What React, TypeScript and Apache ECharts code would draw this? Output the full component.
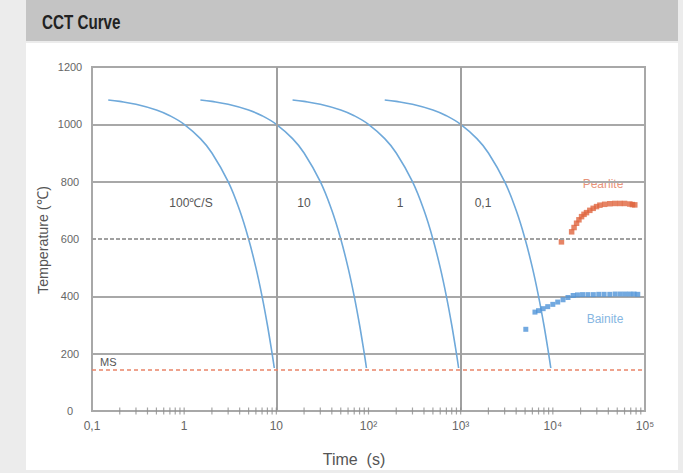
import React, { useEffect, useRef } from "react";
import * as echarts from "echarts";

const xTickLabels = ["0,1", "1", "10", "10²", "10³", "10⁴", "10⁵"];
const yMin = 0;
const yMax = 1200;
const yInterval = 200;

const curve100: [number, number][] = [
  [0.15, 1085], [0.2, 1080], [0.3, 1070], [0.5, 1050], [0.7, 1030], [1, 1000],
  [1.5, 950], [2, 900], [3, 800], [4, 700], [5, 600], [6, 500], [7, 400],
  [8, 300], [9, 200], [9.5, 150],
];
const curve10: [number, number][] = [
  [1.5, 1085], [2, 1080], [3, 1070], [5, 1050], [7, 1030], [10, 1000],
  [15, 950], [20, 900], [30, 800], [40, 700], [50, 600], [60, 500], [70, 400],
  [80, 300], [90, 200], [95, 150],
];
const curve1: [number, number][] = [
  [15, 1085], [20, 1080], [30, 1070], [50, 1050], [70, 1030], [100, 1000],
  [150, 950], [200, 900], [300, 800], [400, 700], [500, 600], [600, 500], [700, 400],
  [800, 300], [900, 200], [950, 150],
];
const curve01: [number, number][] = [
  [150, 1085], [200, 1080], [300, 1070], [500, 1050], [700, 1030], [1000, 1000],
  [1500, 950], [2000, 900], [3000, 800], [4000, 700], [5000, 600], [6000, 500], [7000, 400],
  [8000, 300], [9000, 200], [9500, 150],
];

const pearlite: [number, number][] = [
  [12400, 590], [16000, 625], [17000, 640], [18100, 655], [19200, 667], [20500, 678],
  [21800, 686], [23200, 692], [25200, 700], [27400, 707], [29800, 713], [32400, 718],
  [36500, 721], [41500, 723], [47000, 724], [53300, 724], [60000, 724], [68400, 722],
  [73000, 720], [77500, 719],
];
const bainite: [number, number][] = [
  [5090, 285], [6400, 345], [7000, 350], [7850, 357], [8800, 364], [10000, 372],
  [11300, 380], [12900, 388], [14600, 396], [16600, 403], [18500, 405], [21000, 406],
  [24000, 406], [27500, 406], [31500, 407], [36000, 407], [41500, 407], [47500, 408],
  [54000, 408], [61000, 408], [68500, 408], [76000, 408], [83500, 407],
];

const minorTickValues = [
  0.2, 0.3, 0.4, 0.5, 0.6, 0.7, 0.8, 0.9, 1,
  2, 3, 4, 5, 6, 7, 8, 9, 10,
  20, 30, 40, 50, 60, 70, 80, 90, 100,
  200, 300, 400, 500, 600, 700, 800, 900, 1000,
  2000, 3000, 4000, 5000, 6000, 7000, 8000, 9000, 10000,
  20000, 30000, 40000, 50000, 60000, 70000, 80000, 90000,
];

const verticalLines = [10, 1000];
const msTemp = 145;
const dashedGridTemp = 600;

const FONT = "'Liberation Sans', Arial, sans-serif";
const CURVE_COLOR = "#6fa9da";

export default function App() {
  const ref = useRef<HTMLDivElement>(null);
  useEffect(() => {
    if (!ref.current) return;
    const chart = echarts.init(ref.current, null, { renderer: "svg" });
    const curveSeries = [curve100, curve10, curve1, curve01].map((d, i) => ({
      type: "line",
      name: "curve" + i,
      data: d,
      smooth: 0.4,
      showSymbol: false,
      symbol: "none",
      lineStyle: { color: CURVE_COLOR, width: 1.6 },
      z: 3,
    }));
    const note = (text: string, x: number, y: number, fill = "#555") => ({
      type: "text", x, y,
      style: { text, font: `12px ${FONT}`, fill, align: "center", verticalAlign: "middle" },
    });
    chart.setOption({
      animation: false,
      backgroundColor: "#ececec",
      graphic: [
        { type: "rect", shape: { x: 26, y: 0, width: 652, height: 41 }, style: { fill: "#c4c4c4" }, z: -10 },
        { type: "rect", shape: { x: 26, y: 43, width: 652, height: 427 }, style: { fill: "#ffffff" }, z: -10 },
        {
          type: "text", x: 42, y: 22, scaleX: 0.76,
          style: { text: "CCT Curve", font: `bold 20px ${FONT}`, fill: "#222", verticalAlign: "middle" },
        },
        {
          type: "text", x: 43, y: 240, rotation: Math.PI / 2, scaleX: 0.95,
          style: { text: "Temperature (℃)", font: `15px ${FONT}`, fill: "#555", align: "center", verticalAlign: "middle" },
        },
        {
          type: "text", x: 354, y: 459,
          style: { text: "Time  (s)", font: `16px ${FONT}`, fill: "#555", align: "center", verticalAlign: "middle" },
        },
        note("100℃/S", 191, 203),
        note("10", 304, 203),
        note("1", 400, 203),
        note("0,1", 483, 203),
        note("Pearlite", 603, 184, "#e8937a"),
        note("Bainite", 605, 319, "#86b6e2"),
      ],
      grid: {
        left: 92, right: 38, top: 67, bottom: 62,
        show: true, borderColor: "#a8a8a8", borderWidth: 2,
      },
      xAxis: {
        type: "log",
        logBase: 10,
        min: 0.1,
        max: 100000,
        axisLine: { show: true, lineStyle: { color: "#a8a8a8", width: 1.5 } },
        axisTick: { show: false },
        splitLine: { show: false },
        minorTick: { show: false },
        axisLabel: {
          color: "#666",
          fontFamily: FONT,
          fontSize: 12,
          margin: 9,
          formatter: (v: number) => {
            const idx = Math.round(Math.log10(v)) + 1;
            return xTickLabels[idx] ?? "";
          },
        },
      },
      yAxis: {
        type: "value",
        min: yMin,
        max: yMax,
        interval: yInterval,
        axisLine: { show: true, lineStyle: { color: "#a8a8a8", width: 2 } },
        axisTick: { show: false },
        splitLine: {
          show: true,
          lineStyle: {
            color: ["#a8a8a8", "#a8a8a8", "#a8a8a8", "rgba(0,0,0,0)", "#a8a8a8", "#a8a8a8", "#a8a8a8"],
            width: 2,
          },
        },
        axisLabel: {
          color: "#666",
          fontFamily: FONT,
          fontSize: 11,
          margin: 22,
          align: "center",
          formatter: (v: number) => String(v),
        },
      },
      series: [
        {
          type: "line",
          name: "guides",
          data: [],
          silent: true,
          markLine: {
            silent: true,
            symbol: "none",
            animation: false,
            data: [
              ...verticalLines.map((v) => ({
                xAxis: v,
                lineStyle: { color: "#a0a0a0", width: 2, type: "solid" },
                label: { show: false },
              })),
              {
                yAxis: dashedGridTemp,
                lineStyle: { color: "#a0a0a0", width: 2, type: [4, 2] },
                label: { show: false },
              },
              {
                yAxis: msTemp,
                lineStyle: { color: "#e98468", width: 1.5, type: [4, 3] },
                label: {
                  show: true,
                  position: "insideStartTop",
                  formatter: "MS",
                  color: "#555",
                  fontFamily: FONT,
                  fontSize: 11,
                  distance: [8, 2],
                },
              },
            ],
          },
          z: 2,
        },
        {
          type: "scatter",
          name: "minorTicks",
          data: minorTickValues.map((v) => [v, 0]),
          symbol: "rect",
          symbolSize: [1.2, 7],
          itemStyle: { color: "#8f8f8f" },
          silent: true,
          clip: false,
          z: 6,
        },
        ...curveSeries,
        {
          type: "scatter",
          name: "Pearlite",
          data: pearlite,
          symbol: "rect",
          symbolSize: 5.5,
          itemStyle: { color: "#e0653f" },
          z: 4,
        },
        {
          type: "scatter",
          name: "Bainite",
          data: bainite,
          symbol: "rect",
          symbolSize: 5,
          itemStyle: { color: "#4f93d8" },
          z: 4,
        },
      ],
    });
    return () => chart.dispose();
  }, []);
  return (
    <div
      ref={ref}
      style={{ position: "absolute", left: 0, top: 0, width: 683, height: 473 }}
    />
  );
}
